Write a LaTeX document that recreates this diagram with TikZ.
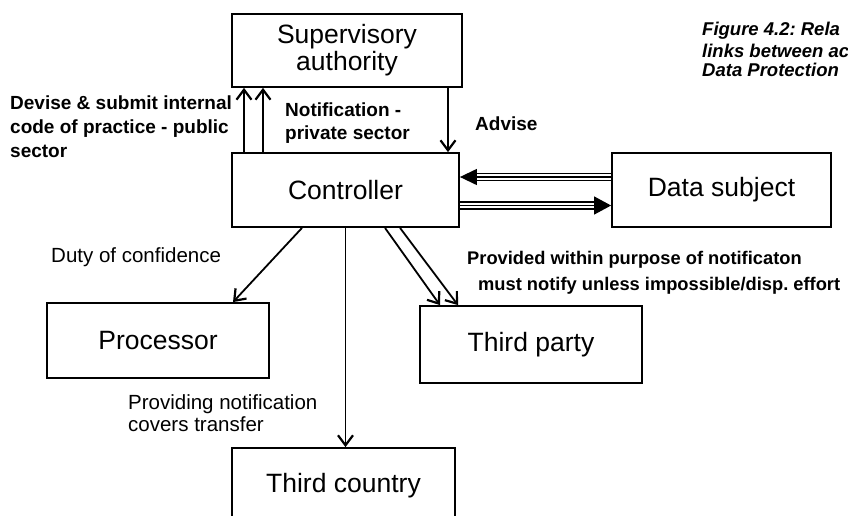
\documentclass[tikz,border=0pt]{standalone}
\usepackage{fontspec}
\setmainfont{Liberation Sans}
\usetikzlibrary{arrows.meta,calc}
\frenchspacing
\begin{document}
\begin{tikzpicture}[x=1pt,y=-1pt,
 box/.style={draw,line width=1.8pt,inner sep=0pt,font=\fontsize{26.5}{27}\selectfont,align=center},
 arr/.style={line width=1.8pt,-{Straight Barb[length=10pt,width=15pt,line width=2.2pt]}},
 lbl/.style={font=\bfseries\fontsize{19}{24}\selectfont,align=left,inner sep=0pt,anchor=west},
 lbls/.style={font=\bfseries\fontsize{18.3}{24}\selectfont,align=left,inner sep=0pt,anchor=west},
 lblr/.style={font=\fontsize{20.5}{22.5}\selectfont,align=left,inner sep=0pt,anchor=west},
 figcap/.style={font=\bfseries\itshape\fontsize{18.5}{19.5}\selectfont,align=left,inner sep=0pt,anchor=west},
 tl/.style={line width=1.3pt},
 tipl/.style={tl,-{Triangle[length=17pt,width=16pt]}},
 tipr/.style={tl,-{Triangle[length=17pt,width=18pt]}}]
\useasboundingbox (0,0) rectangle (848,515);
\begin{scope}
\clip (0,0) rectangle (848,515);
% boxes
\node[box,minimum width=230pt,minimum height=73pt] (sup) at (347,50.5) {Supervisory\\authority};
\node[box,minimum width=227pt,minimum height=74pt] (ctrl) at (345.5,190) {Controller};
\node[box,minimum width=219pt,minimum height=74pt] (ds) at (721.5,190) {Data subject};
\node[box,minimum width=222pt,minimum height=75pt] (proc) at (158,340.5) {Processor};
\node[box,minimum width=222pt,minimum height=77pt] (tp) at (531,344.5) {Third party};
\node[box,minimum width=223pt,minimum height=76pt] (tc) at (343.5,486) {Third country};
% caption
\node[figcap] (cap1) at (702,31) {Figure 4.2: Rela};
\node[figcap] (cap2) at (702,51) {links between ac};
\node[figcap] (cap3) at (702,70) {Data Protection};
\end{scope}
% labels
\node[lbl] (devise) at (10,127) {Devise \& submit internal\\code of practice - public\\sector};
\node[lbl,font=\bfseries\fontsize{19}{23}\selectfont] (notif) at (285,123.5) {Notification -\\private sector};
\node[lbl] (advise) at (475,124) {Advise};
\node[lblr] (duty) at (51,257) {Duty of confidence};
\node[lbls] (prov1) at (467,260) {Provided within purpose of notificaton};
\node[lbls] (prov2) at (478,286) {must notify unless impossible/disp. effort};
\node[lblr] (provn) at (128,413) {Providing notification\\covers transfer};
% arrows controller <-> supervisory
\draw[arr] ([xshift=-101.5pt]ctrl.north) -- ([xshift=-101.5pt]ctrl.north |- sup.south);
\draw[arr] ([xshift=-82.5pt]ctrl.north) -- ([xshift=-82.5pt]ctrl.north |- sup.south);
\draw[arr] ([xshift=102.5pt]ctrl.north |- sup.south) -- ([xshift=102.5pt]ctrl.north);
% triple arrows controller <-> data subject
\draw[tipl] ([yshift=13pt]ds.west) -- ([yshift=13pt]ctrl.east);
\draw[tl,shorten >=16pt] ([yshift=16.5pt]ds.west) -- ([yshift=16.5pt]ctrl.east);
\draw[tl,shorten >=16pt] ([yshift=9.5pt]ds.west) -- ([yshift=9.5pt]ctrl.east);
\draw[tipr] ([yshift=-15.5pt]ctrl.east) -- ([yshift=-15.5pt]ds.west);
\draw[tl,shorten >=16pt] ([yshift=-12pt]ctrl.east) -- ([yshift=-12pt]ds.west);
\draw[tl,shorten >=16pt] ([yshift=-19pt]ctrl.east) -- ([yshift=-19pt]ds.west);
% controller -> processor, third party, third country
\draw[arr] ([xshift=-43.5pt]ctrl.south) -- ([xshift=75pt]proc.north);
\draw[arr] ([xshift=39.5pt]ctrl.south) -- ([xshift=-91pt]tp.north);
\draw[arr] ([xshift=54.5pt]ctrl.south) -- ([xshift=-73pt]tp.north);
\draw[arr] (ctrl.south) -- (ctrl.south |- tc.north);
\end{tikzpicture}
\end{document}
